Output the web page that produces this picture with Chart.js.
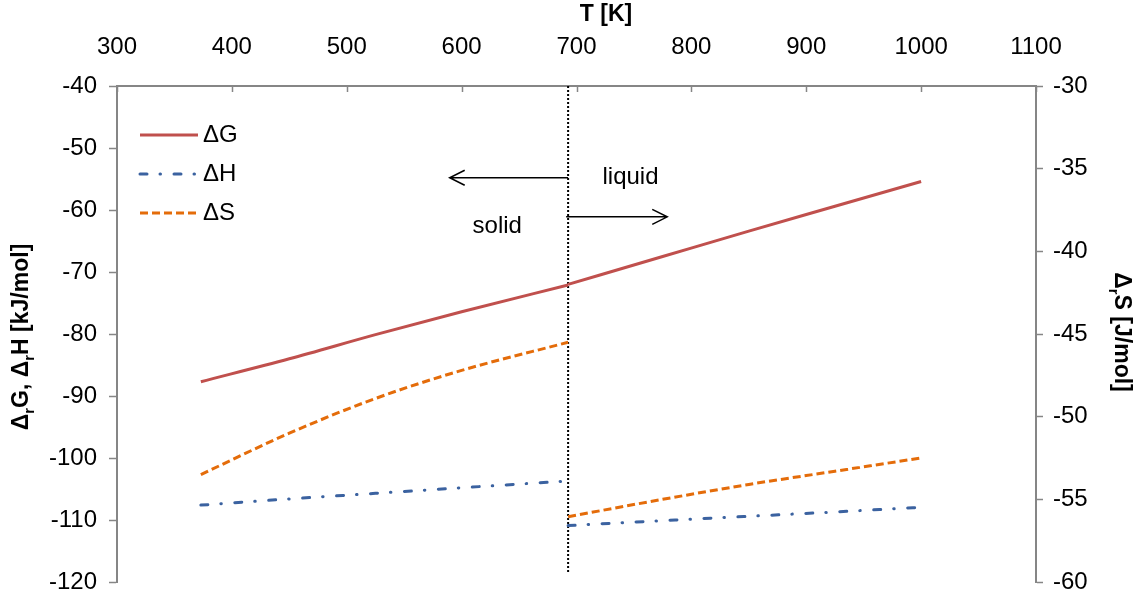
<!DOCTYPE html>
<html>
<head>
<meta charset="utf-8">
<script src="https://cdn.jsdelivr.net/npm/chart.js@4.4.1/dist/chart.umd.min.js"></script>
<style>
  html, body { margin: 0; padding: 0; background: #fff; }
  #wrap { width: 1145px; height: 598px; }
</style>
</head>
<body>
<div id="wrap"><canvas id="c" width="1145" height="598"></canvas></div>
<script>
// Melting temperature (K) separating the solid and liquid branches
const meltT = 692.7;

// Temperatures (K) for each branch
const tSolid  = [373, 450, 525, 600, 692.7];
const tLiquid = [692.7, 775, 850, 925, 1000];

// Reaction Gibbs energy, kJ/mol
const dGsolid  = [-87.7, -84.0, -80.1, -76.4, -72.1];
const dGliquid = [-72.0, -67.5, -63.4, -59.4, -55.4];

// Reaction enthalpy, kJ/mol
const dHsolid  = [-107.6, -106.6, -105.7, -104.8, -103.7];
const dHliquid = [-110.9, -110.1, -109.4, -108.7, -107.95];

// Reaction entropy, J/mol (right axis)
const dSsolid  = [-53.5, -51.0, -48.9, -47.2, -45.5];
const dSliquid = [-56.05, -55.0, -54.1, -53.3, -52.5];

const seriesNames = ['\u0394G', '\u0394H', '\u0394S'];

// Joins the two branches with a break at the melting point
function branches(ts, vs, tl, vl) {
  const a = ts.map((t, i) => ({ x: t, y: vs[i] }));
  const b = tl.map((t, i) => ({ x: t, y: vl[i] }));
  return a.concat([{ x: meltT, y: null }], b);
}

const AXIS_GREY = '#868686';
const FONT = '"Liberation Sans", Arial, sans-serif';
const TXT = 24;

const colG = '#C0504D';
const colH = '#3B62A0';
const colS = '#E46C0A';
const dashH = [7, 13, 0.5, 13.5];
const dashS = [8, 4];

function drawRich(ctx, parts, x, y, angle, size) {
  const main = 'bold ' + size + 'px ' + FONT;
  const sub = 'bold ' + Math.round(size * 0.65) + 'px ' + FONT;
  ctx.save();
  ctx.translate(x, y);
  ctx.rotate(angle);
  let total = 0;
  parts.forEach(p => { ctx.font = p.sub ? sub : main; total += ctx.measureText(p.t).width; });
  let cx = -total / 2;
  ctx.textBaseline = 'middle';
  ctx.textAlign = 'left';
  ctx.fillStyle = '#000';
  parts.forEach(p => {
    ctx.font = p.sub ? sub : main;
    ctx.fillText(p.t, cx, p.sub ? size * 0.32 : 0);
    cx += ctx.measureText(p.t).width;
  });
  ctx.restore();
}

function arrow(ctx, x1, y1, x2, y2) {
  const dir = Math.sign(x2 - x1);
  ctx.beginPath();
  ctx.moveTo(x1, y1);
  ctx.lineTo(x2, y2);
  ctx.moveTo(x2 - dir * 15, y2 - 7.5);
  ctx.lineTo(x2, y2);
  ctx.lineTo(x2 - dir * 15, y2 + 7.5);
  ctx.stroke();
}

const decorations = {
  id: 'decorations',
  afterDraw(chart) {
    const ctx = chart.ctx;
    const xs = chart.scales.x, yl = chart.scales.y;
    const area = chart.chartArea;

    // inward tick marks on the top temperature axis
    ctx.save();
    ctx.strokeStyle = AXIS_GREY;
    ctx.lineWidth = 1.5;
    for (let v = 300; v <= 1100; v += 100) {
      const px = Math.round(xs.getPixelForValue(v)) + 0.5;
      ctx.beginPath();
      ctx.moveTo(px, area.top);
      ctx.lineTo(px, area.top + 6);
      ctx.stroke();
    }
    ctx.restore();

    // phase arrows and labels
    ctx.save();
    ctx.strokeStyle = '#000';
    ctx.lineWidth = 1.5;
    arrow(ctx, xs.getPixelForValue(meltT), yl.getPixelForValue(-54.8), xs.getPixelForValue(589.6), yl.getPixelForValue(-54.8));
    arrow(ctx, xs.getPixelForValue(meltT) - 2, yl.getPixelForValue(-61.1), xs.getPixelForValue(779), yl.getPixelForValue(-61.1));
    ctx.fillStyle = '#000';
    ctx.font = TXT + 'px ' + FONT;
    ctx.textAlign = 'center';
    ctx.textBaseline = 'middle';
    ctx.fillText('liquid', xs.getPixelForValue(747), yl.getPixelForValue(-54.8));
    ctx.fillText('solid', xs.getPixelForValue(631), yl.getPixelForValue(-62.7));
    ctx.restore();

    // legend inside the plot area
    const styles = [
      { c: colG, d: [], cap: 'butt' },
      { c: colH, d: dashH, cap: 'round' },
      { c: colS, d: dashS, cap: 'butt' }
    ];
    ctx.save();
    styles.forEach((s, i) => {
      const y = area.top + 49 + i * 39;
      ctx.strokeStyle = s.c;
      ctx.lineWidth = 3;
      ctx.lineCap = s.cap;
      ctx.setLineDash(s.d);
      ctx.beginPath();
      ctx.moveTo(area.left + 23, y);
      ctx.lineTo(area.left + 81, y);
      ctx.stroke();
      ctx.setLineDash([]);
      ctx.fillStyle = '#000';
      ctx.font = TXT + 'px ' + FONT;
      ctx.textAlign = 'left';
      ctx.textBaseline = 'middle';
      ctx.fillText(seriesNames[i], area.left + 86, y);
    });
    ctx.restore();

    // axis titles
    drawRich(ctx, [{ t: 'T [K]' }], 606, 15, 0, 23);
    drawRich(ctx, [
      { t: '\u0394' }, { t: 'r', sub: true }, { t: 'G, \u0394' }, { t: 'r', sub: true }, { t: 'H [kJ/mol]' }
    ], 22, 337, -Math.PI / 2, 23);
    drawRich(ctx, [
      { t: '\u0394' }, { t: 'r', sub: true }, { t: 'S [J/mol]' }
    ], 1121, 332, Math.PI / 2, 23);
  }
};

const tickFont = { family: FONT, size: TXT };
const noPad = s => { s.paddingTop = 0; s.paddingBottom = 0; s.paddingLeft = 0; s.paddingRight = 0; };

new Chart(document.getElementById('c'), {
  type: 'line',
  data: {
    datasets: [
      {
        label: seriesNames[0],
        data: branches(tSolid, dGsolid, tLiquid, dGliquid),
        borderColor: colG, borderWidth: 3, pointRadius: 0,
        yAxisID: 'y', spanGaps: false, cubicInterpolationMode: 'monotone'
      },
      {
        label: seriesNames[1],
        data: branches(tSolid, dHsolid, tLiquid, dHliquid),
        borderColor: colH, borderWidth: 3, pointRadius: 0,
        borderDash: dashH, borderCapStyle: 'round',
        yAxisID: 'y', spanGaps: false, cubicInterpolationMode: 'monotone'
      },
      {
        label: seriesNames[2],
        data: branches(tSolid, dSsolid, tLiquid, dSliquid),
        borderColor: colS, borderWidth: 3, pointRadius: 0,
        borderDash: dashS,
        yAxisID: 'y2', spanGaps: false, cubicInterpolationMode: 'monotone'
      },
      {
        label: 'Tm',
        data: [{ x: meltT, y: -40 }, { x: meltT, y: -118.5 }],
        borderColor: '#000', borderWidth: 2, pointRadius: 0,
        borderDash: [2, 2], yAxisID: 'y'
      }
    ]
  },
  options: {
    responsive: false,
    animation: false,
    devicePixelRatio: 1,
    layout: { padding: { top: 0, bottom: 16, left: 0, right: 0 } },
    plugins: { legend: { display: false }, tooltip: { enabled: false } },
    scales: {
      x: {
        type: 'linear', position: 'top', min: 300, max: 1100,
        ticks: { stepSize: 100, font: tickFont, color: '#000', padding: 24, maxRotation: 0,
                 callback: v => String(v) },
        grid: { display: true, drawOnChartArea: false, drawTicks: false, color: AXIS_GREY },
        border: { color: AXIS_GREY, width: 2 },
        afterFit: s => { s.height = 86; noPad(s); }
      },
      y: {
        position: 'left', min: -120, max: -40,
        ticks: { stepSize: 10, font: tickFont, color: '#000', padding: 12 },
        grid: { drawOnChartArea: false, drawTicks: true, tickLength: 8, tickColor: AXIS_GREY, tickWidth: 1.5 },
        border: { color: AXIS_GREY, width: 2 },
        afterFit: s => { s.width = 117; noPad(s); }
      },
      y2: {
        position: 'right', min: -60, max: -30,
        ticks: { stepSize: 5, font: tickFont, color: '#000', padding: 10 },
        grid: { drawOnChartArea: false, drawTicks: true, tickLength: 7, tickColor: AXIS_GREY, tickWidth: 1.5 },
        border: { color: AXIS_GREY, width: 2 },
        afterFit: s => { s.width = 109; noPad(s); }
      }
    }
  },
  plugins: [decorations]
});
</script>
</body>
</html>
